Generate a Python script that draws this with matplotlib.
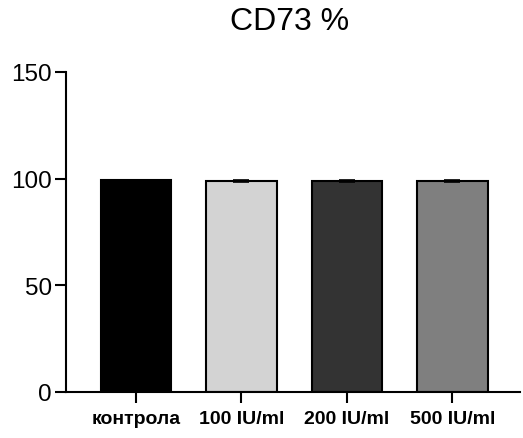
import matplotlib as mpl
mpl.use('Agg')
import matplotlib.pyplot as plt
import numpy as np

mpl.rcParams['font.family'] = ['Liberation Sans', 'DejaVu Sans']

# -- Data
groups = ['контрола', '100 IU/ml', '200 IU/ml', '500 IU/ml']
values = [99.5, 98.9, 98.9, 98.9]
errors = [0.0, 0.3, 0.4, 0.3]
colors = ['#000000', '#d3d3d3', '#333333', '#7f7f7f']

# -- Plot
fig = plt.figure(figsize=(5.23, 4.39), dpi=100)
ax = fig.add_axes([0.126, 0.105, 0.868, 0.729])

x = np.arange(len(groups))
ax.bar(x, values, width=0.67, color=colors, edgecolor='black', linewidth=1.5,
       yerr=errors, error_kw={'elinewidth': 1.2, 'capsize': 6, 'capthick': 1.2, 'ecolor': 'black'},
       zorder=2)

ax.set_xlim(-0.665, 3.64)
ax.set_ylim(0, 150)
ax.set_yticks([0, 50, 100, 150])
ax.set_xticks(x)
ax.set_xticklabels(groups, fontweight='bold', fontsize=14)
ax.tick_params(axis='y', labelsize=17.5, width=1.5, length=8, pad=2)
ax.tick_params(axis='x', width=1.5, length=8, pad=5)

for side in ['top', 'right']:
    ax.spines[side].set_visible(False)
for side in ['left', 'bottom']:
    ax.spines[side].set_linewidth(1.5)

fig.text(0.553, 0.95, 'CD73 %', ha='center', va='center', fontsize=23)

plt.savefig('out.png', dpi=100)
